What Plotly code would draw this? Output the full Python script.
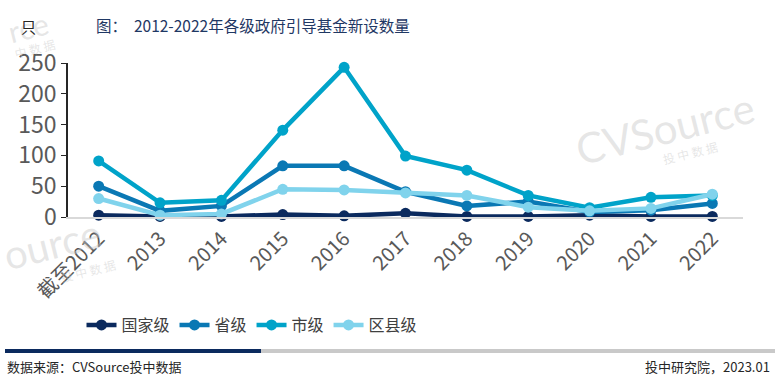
import plotly.graph_objects as go

categories = ["截至2012", "2013", "2014", "2015", "2016", "2017", "2018", "2019", "2020", "2021", "2022"]
national = [3, 1, 1, 4, 2, 6, 1, 1, 3, 1, 1]
provincial = [50, 10, 18, 83, 83, 41, 18, 25, 8, 11, 22]
city = [91, 23, 27, 141, 243, 99, 76, 35, 15, 32, 35]
county = [30, 3, 5, 45, 44, 39, 35, 16, 10, 14, 37]
series_names = ["国家级", "省级", "市级", "区县级"]
colors = ["#0B2A5E", "#0A78B4", "#00A3C9", "#80D3EC"]

W, H = 779, 380
L, R, T, B = 68, 36, 63, 163
PW, PH = W - L - R, H - T - B

def px(x):
    return (x - L) / PW

def py(y):
    return (H - B - y) / PH

FONT = "Noto Sans CJK SC"
fig = go.Figure()

# watermarks (drawn first, behind everything)
wm = "rgba(200,200,200,0.45)"
def watermark(text, cx, cy, size, family):
    fig.add_annotation(text=text, xref="paper", yref="paper", x=px(cx), y=py(cy),
                       xanchor="center", yanchor="middle", showarrow=False, textangle=-14,
                       font=dict(size=size, color=wm, family=family))

watermark("CVSource", 665, 128, 42, "Lato")
watermark("投 中 数 据", 690, 152, 12, FONT)
watermark("ource", 52, 244, 40, "Lato")
watermark("投 中 数 据", 88, 270, 12, FONT)
watermark("rce", 28, 27, 30, "Lato")
watermark("中 数 据", 34, 48, 12, FONT)

for name, vals, c in zip(series_names, [national, provincial, city, county], colors):
    fig.add_trace(go.Scatter(
        x=categories, y=vals, name=name, mode="lines+markers",
        line=dict(color=c, width=4.5), marker=dict(color=c, size=11),
        cliponaxis=False,
    ))

fig.update_layout(
    width=W, height=H,
    margin=dict(l=L, r=R, t=T, b=B),
    paper_bgcolor="white", plot_bgcolor="white",
    font=dict(family=FONT, color="#595959"),
    showlegend=True,
    legend=dict(orientation="h", x=px(252), xanchor="center", y=py(325), yanchor="middle",
                font=dict(size=16, color="#404040", family=FONT),
                tracegroupgap=0, itemwidth=30),
    xaxis=dict(type="category", showgrid=False, showline=True, linecolor="#D9D9D9", linewidth=2,
               tickangle=-45, tickfont=dict(size=20, color="#595959", family=FONT),
               ticks="", range=[-0.5, 10.5], zeroline=False),
    yaxis=dict(range=[0, 250], dtick=50, showgrid=False, showline=True, linecolor="#262626",
               linewidth=1.5, ticks="outside", ticklen=5, tickcolor="#262626",
               tickfont=dict(size=23, color="#595959", family=FONT), zeroline=False),
)

# title and unit
fig.add_annotation(text="图：  2012-2022年各级政府引导基金新设数量", xref="paper", yref="paper",
                   x=px(94), y=py(25), xanchor="left", yanchor="middle", showarrow=False,
                   font=dict(size=15.5, color="#1F3864", family=FONT))
fig.add_annotation(text="只", xref="paper", yref="paper", x=px(19), y=py(27),
                   xanchor="left", yanchor="middle", showarrow=False,
                   font=dict(size=15, color="#262626", family=FONT))

# footer bars
fig.add_shape(type="line", xref="paper", yref="paper", x0=px(261), x1=px(775), y0=py(351), y1=py(351),
              line=dict(color="#C9C9C9", width=4))
fig.add_shape(type="line", xref="paper", yref="paper", x0=px(5), x1=px(261), y0=py(351), y1=py(351),
              line=dict(color="#0B2A5E", width=4))
fig.add_annotation(text="数据来源：CVSource投中数据", xref="paper", yref="paper", x=px(5), y=py(366),
                   xanchor="left", yanchor="middle", showarrow=False,
                   font=dict(size=13, color="#262626", family=FONT))
fig.add_annotation(text="投中研究院，2023.01", xref="paper", yref="paper", x=px(772), y=py(366),
                   xanchor="right", yanchor="middle", showarrow=False,
                   font=dict(size=13, color="#262626", family=FONT))

fig.write_html("out.html", config={"displayModeBar": False},
               post_script="document.body.style.margin='0';document.body.style.overflow='hidden';")
